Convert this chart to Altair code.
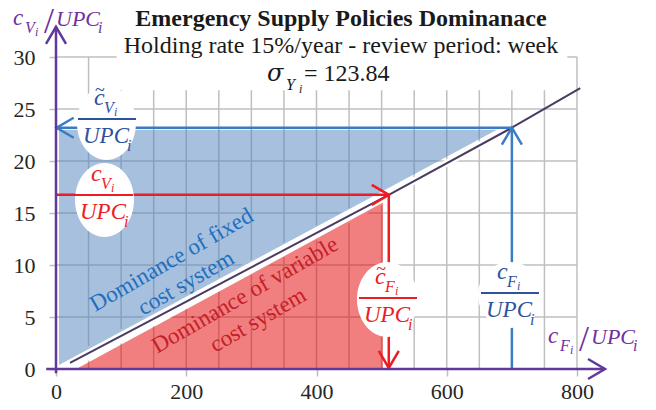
import altair as alt
import pandas as pd

FONT = "Liberation Serif"
PURPLE_LINE = "#61399b"
PURPLE_TEXT = "#7030a0"
GRID = "#bfbfbf"
BLUE_ARROW = "#3a7cc3"
BLUE_TEXT = "#2f52a0"
RED = "#ec1c24"
BLUE_FILL = "#4f81bd"
RED_FILL = "#e60000"
BOUNDARY = "#4a3b63"
DOM_BLUE = "#1f6fbf"
DOM_RED = "#c42029"

# ---------------- data ----------------
x_tick_values = [0, 200, 400, 600, 800]
y_tick_values = [0, 5, 10, 15, 20, 25, 30]
x_grid_values = [50, 100, 150, 200, 250, 300, 350, 400, 450, 500, 550, 600, 650, 700, 750, 800]
y_grid_values = [5, 10, 15, 20, 25, 30]

# break-even boundary between the two systems
boundary_x = [21.5, 511, 700, 805]
boundary_y = [0.58, 16.75, 23.2, 27.0]

# dominance regions
fixed_x = [4.6, 677]
fixed_lo = [0.38, 23.0]
fixed_hi = [23.0, 23.0]
variable_x = [33.8, 502]
variable_lo = [0.0, 0.0]
variable_hi = [0.1, 16.0]

# policy levels
cv_tilde = 23.2     # c~V / UPC
cv = 16.75          # cV / UPC
cf_tilde = 511      # c~F / UPC
cf = 700            # cF / UPC

# fraction label anchors (fraction bar centre, data units)
label_x = [78.3, 73.7, 509.8, 697.1]
label_y = [24.04, 16.73, 6.83, 7.31]
label_sub = ["V", "V", "F", "F"]
label_tilde = [True, False, True, False]
label_color = [BLUE_TEXT, RED, RED, BLUE_TEXT]
# white ellipses behind labels
ell_x = [77.5, 74.5, 509.0, 697.1]
ell_y = [23.65, 16.25, 6.68, 7.12]
ell_w = [59, 59, 61, 64]
ell_h = [74, 74, 75, 66]

# axis title anchors
axtitle_x = [-66.0, 755.5]
axtitle_y = [33.08, 2.5]
axtitle_sub = ["V", "F"]

# chart title anchors
title_x = 437.6
title_y = 32.98
subtitle_y = 30.38
sigma_x = 324.0
sigma_y = 27.69
sigma_value = "123.84"

# region captions
dom_x = [177.3, 199.6, 290.2, 310.2]
dom_y = [10.48, 8.27, 7.12, 4.71]
dom_text = ["Dominance of fixed", "cost system", "Dominance of variable", "cost system"]
dom_color = [DOM_BLUE, DOM_BLUE, DOM_RED, DOM_RED]

# ---------------- helpers ----------------
xs = alt.Scale(domain=[0, 800], nice=False, zero=False)
ys = alt.Scale(domain=[0, 30], nice=False, zero=False)

x_axis = alt.Axis(values=x_tick_values, grid=False, domain=False, tickColor=GRID, tickSize=7,
                  tickWidth=1.5, labelFont=FONT, labelFontSize=22, labelColor="#262626",
                  labelPadding=5, title=None, labelFlush=False, labelOverlap=False)
y_axis = alt.Axis(values=y_tick_values, grid=False, domain=False, tickColor=GRID, tickSize=7,
                  tickWidth=1.5, labelFont=FONT, labelFontSize=22, labelColor="#262626",
                  labelPadding=14, title=None, labelFlush=False, labelOverlap=False)


def X(f="x"):
    return alt.X(f"{f}:Q", scale=xs, axis=x_axis, title=None)


def Y(f="y"):
    return alt.Y(f"{f}:Q", scale=ys, axis=y_axis, title=None)


def txt(df, dx, dy, size, style="italic", weight="normal", align="left", angle=None,
        baseline="alphabetic", font=FONT):
    kw = dict(dx=dx, dy=dy, fontSize=size, fontStyle=style, fontWeight=weight,
              align=align, baseline=baseline, font=font)
    if angle is not None:
        kw["angle"] = angle
    return alt.Chart(df).mark_text(**kw).encode(
        x=X(), y=Y(), text="text:N", color=alt.Color("color:N", scale=None))


CHEVRON = "M -1.7 -1 L 0 0 L -1.7 1"


def chevrons(df, width=2.5):
    return alt.Chart(df).mark_point(shape=CHEVRON, size=400, filled=False, strokeWidth=width,
                                    opacity=1).encode(
        x=X(), y=Y(), angle=alt.Angle("angle:Q", scale=None), color=alt.Color("color:N", scale=None))


def ellipse_path(w, h):
    r = w / h
    return f"M {-r:.3f} 0 A {r:.3f} 1 0 1 1 {r:.3f} 0 A {r:.3f} 1 0 1 1 {-r:.3f} 0 Z"


layers = []

# grid
vgrid = pd.DataFrame({"x": x_grid_values, "y": 0, "y2": 30})
layers.append(alt.Chart(vgrid).mark_rule(color=GRID, strokeWidth=1.5).encode(
    x=X(), y=Y(), y2="y2:Q"))
hgrid = pd.DataFrame({"y": y_grid_values, "x": 0, "x2": 800})
layers.append(alt.Chart(hgrid).mark_rule(color=GRID, strokeWidth=1.5).encode(
    x=X(), x2="x2:Q", y=Y()))

# white box behind the title
tbox = pd.DataFrame({"x": [93], "x2": [785], "y": [26.8], "y2": [30.6]})
layers.append(alt.Chart(tbox).mark_rect(color="white").encode(x=X(), x2="x2:Q", y=Y(), y2="y2:Q"))

# white band around the boundary
band1 = pd.DataFrame({"x": boundary_x[0:2], "y": boundary_y[0:2]})
band2 = pd.DataFrame({"x": boundary_x[1:3], "y": boundary_y[1:3]})
layers.append(alt.Chart(band1).mark_line(color="white", strokeWidth=13, strokeCap="butt").encode(x=X(), y=Y()))
layers.append(alt.Chart(band2).mark_line(color="white", strokeWidth=7, strokeCap="butt").encode(x=X(), y=Y()))

# dominance regions
fixed_df = pd.DataFrame({"x": fixed_x, "lo": fixed_lo, "hi": fixed_hi})
layers.append(alt.Chart(fixed_df).mark_area(color=BLUE_FILL, opacity=0.5).encode(
    x=X(), y=Y("lo"), y2="hi:Q"))
var_df = pd.DataFrame({"x": variable_x, "lo": variable_lo, "hi": variable_hi})
layers.append(alt.Chart(var_df).mark_area(color=RED_FILL, opacity=0.5).encode(
    x=X(), y=Y("lo"), y2="hi:Q"))

# boundary line
bdf = pd.DataFrame({"x": boundary_x, "y": boundary_y})
layers.append(alt.Chart(bdf).mark_line(color=BOUNDARY, strokeWidth=2).encode(x=X(), y=Y()))

# arrow shafts
arrows = pd.DataFrame({
    "x": [1, cf, 1, cf_tilde],
    "x2": [cf, cf, cf_tilde, cf_tilde],
    "y": [cv_tilde, 0, cv, cv],
    "y2": [cv_tilde, cv_tilde, cv, 0.1],
    "color": [BLUE_ARROW, BLUE_ARROW, RED, RED],
})
layers.append(alt.Chart(arrows).mark_rule(strokeWidth=2.5).encode(
    x=X(), x2="x2:Q", y=Y(), y2="y2:Q", color=alt.Color("color:N", scale=None)))
heads = pd.DataFrame({
    "x": [1, cf, cf_tilde, cf_tilde],
    "y": [cv_tilde, cv_tilde, cv, 0.1],
    "angle": [180, 270, 0, 90],
    "color": [BLUE_ARROW, BLUE_ARROW, RED, RED],
})
layers.append(chevrons(heads))

# white ellipses
ell = pd.DataFrame({
    "x": ell_x, "y": ell_y,
    "path": [ellipse_path(w, h) for w, h in zip(ell_w, ell_h)],
    "size": [h * h for h in ell_h],
})
layers.append(alt.Chart(ell).mark_point(filled=True, color="white", opacity=1, strokeWidth=0).encode(
    x=X(), y=Y(), shape=alt.Shape("path:N", scale=None), size=alt.Size("size:Q", scale=None)))

# fraction labels
lab = pd.DataFrame({"x": label_x, "y": label_y, "color": label_color})
layers.append(alt.Chart(lab).mark_point(shape="M -1 0 L 1 0", size=58 * 58, filled=False,
                                        strokeWidth=2, opacity=1).encode(
    x=X(), y=Y(), color=alt.Color("color:N", scale=None)))
layers.append(txt(lab.assign(text="c"), -13, -14, 24))
til = lab[label_tilde].assign(text="~")
layers.append(txt(til, -7, -23, 18, style="normal", align="center"))
layers.append(txt(lab.assign(text=label_sub), -3, -6, 16))
layers.append(txt(lab.assign(text="i"), 7, -3, 12))
layers.append(txt(lab.assign(text="UPC"), -24, 24, 23))
layers.append(txt(lab.assign(text="i"), 20, 32, 16))

# axis lines with arrow heads
axes = pd.DataFrame({"x": [-15, 0], "x2": [843, 0], "y": [0, -0.4], "y2": [0, 32.9]})
layers.append(alt.Chart(axes).mark_rule(color=PURPLE_LINE, strokeWidth=2.5).encode(
    x=X(), x2="x2:Q", y=Y(), y2="y2:Q"))
axheads = pd.DataFrame({"x": [843, 0], "y": [0, 32.9], "angle": [0, 270],
                        "color": [PURPLE_LINE, PURPLE_LINE]})
layers.append(chevrons(axheads))

# axis titles  c_{V_i} / UPC_i
at = pd.DataFrame({"x": axtitle_x, "y": axtitle_y, "color": PURPLE_TEXT})
layers.append(txt(at.assign(text="c"), 0, 0, 23))
layers.append(txt(at.assign(text=axtitle_sub), 12, 8, 16))
layers.append(txt(at.assign(text="i"), 22, 11, 12))
layers.append(txt(at.assign(text="/"), 31, 8, 36, style="normal"))
layers.append(txt(at.assign(text="UPC"), 43, 1, 22))
layers.append(txt(at.assign(text="i"), 85, 8, 16))

# region captions
dom = pd.DataFrame({"x": dom_x, "y": dom_y, "text": dom_text, "color": dom_color})
layers.append(txt(dom, 0, 0, 23, style="normal", align="center", angle=330, baseline="middle"))

# titles
t1 = pd.DataFrame({"x": [title_x], "y": [title_y], "text": ["Emergency Supply Policies Dominanace"],
                   "color": ["#1a1a1a"]})
layers.append(txt(t1, 0, 0, 24, style="normal", weight="bold", align="center"))
t2 = pd.DataFrame({"x": [title_x], "y": [subtitle_y],
                   "text": ["Holding rate 15%/year - review period: week"], "color": ["#1a1a1a"]})
layers.append(txt(t2, 0, 0, 24, style="normal", align="center"))
sg = pd.DataFrame({"x": [sigma_x], "y": [sigma_y], "color": ["#1a1a1a"]})
layers.append(txt(sg.assign(text="σ"), 0, 0, 24, font="DejaVu Serif"))
layers.append(txt(sg.assign(text="Y"), 19, 9, 16))
layers.append(txt(sg.assign(text="i"), 32, 12, 12))
layers.append(txt(sg.assign(text="= " + sigma_value), 37, 0, 24, style="normal"))

chart = alt.layer(*layers).properties(
    width=521, height=312,
    autosize=alt.AutoSizeParams(type="none"),
    padding={"left": 48, "top": 49, "right": 71, "bottom": 33},
).configure_view(stroke=None)

chart.save("out.html", embed_options={"renderer": "svg", "actions": False})
